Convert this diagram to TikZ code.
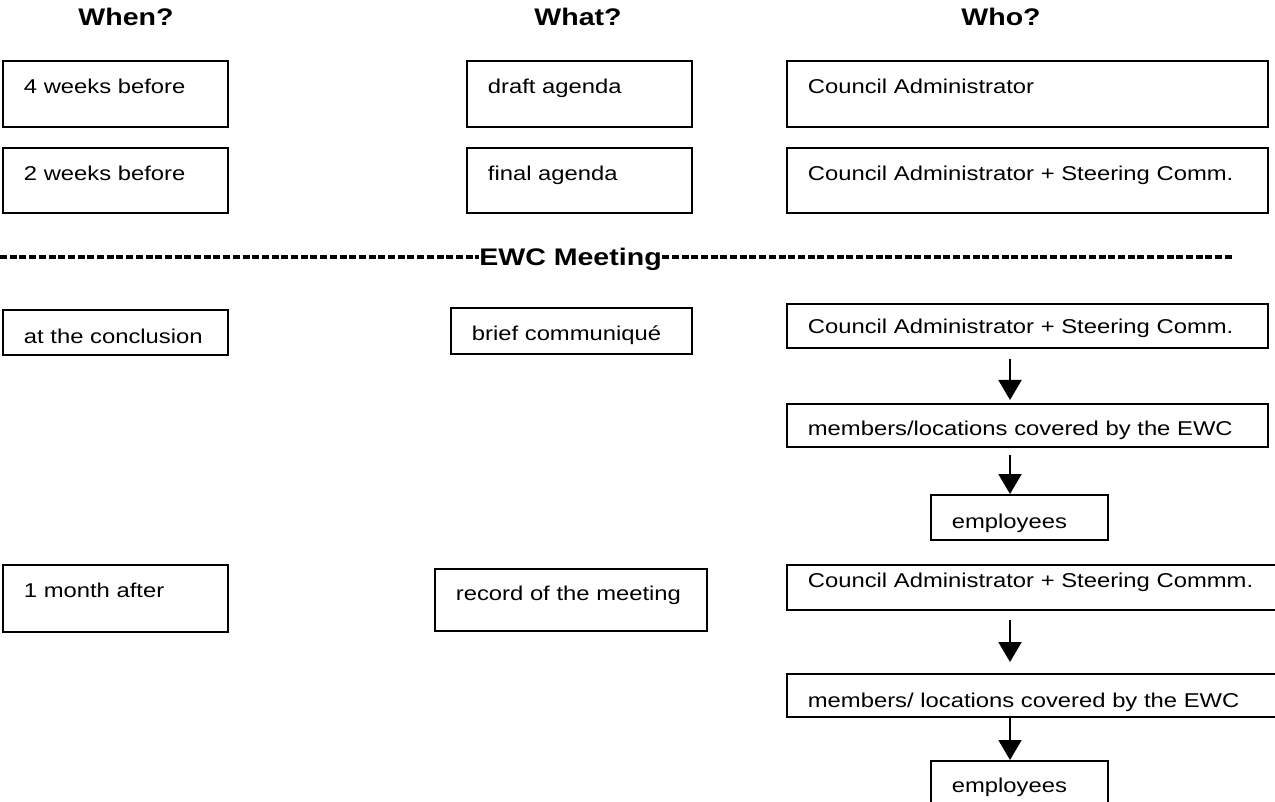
\documentclass[tikz,border=0pt]{standalone}
\usepackage{fontspec}
\setmainfont{Liberation Sans}[FakeStretch=1.19]
\usetikzlibrary{arrows.meta}

\begin{document}
\begin{tikzpicture}[x=0.5pt, y=-0.5pt, >={Triangle[width=11.5pt, length=10pt]},
  box/.style n args={3}{draw, line width=0.9pt, anchor=north west, align=left,
    inner xsep=10.5pt, inner ysep=0pt, text width=#1-21pt,
    text height=#2, text depth=#3, font=\fontsize{10}{12}\selectfont},
  head/.style={anchor=base, inner sep=0pt, font=\bfseries\fontsize{12}{14}\selectfont},
  hyphens/.style={line width=2.2pt, dash pattern=on 3.5pt off 1.35pt},
  flow/.style={->, line width=1pt}]

% Page
\clip (0, 0) rectangle (1275, 802);

% Column headings
\node[head] (when) at (126, 26) {When?};
\node[head] (what) at (578, 26) {What?};
\node[head] (who) at (1001, 26) {Who?};

% Before the meeting
\node[box={112.5pt}{16.5pt}{16.5pt}] (when1) at (2, 60) {4 weeks before};
\node[box={112.5pt}{16.5pt}{16.5pt}] (what1) at (466, 60) {draft agenda};
\node[box={240.5pt}{16.5pt}{16.5pt}] (who1) at (786, 60) {Council Administrator};

\node[box={112.5pt}{16.5pt}{16pt}] (when2) at (2, 147) {2 weeks before};
\node[box={112.5pt}{16.5pt}{16pt}] (what2) at (466, 147) {final agenda};
\node[box={240.5pt}{16.5pt}{16pt}] (who2) at (786, 147) {Council Administrator + Steering Comm.};

% Meeting line
\node[head] (ewc) at (570.5, 266) {EWC Meeting};
\coordinate (ewcL) at (0, 257);
\coordinate (ewcR) at (1233, 257);
\draw[hyphens] (ewcL) -- (ewcL -| ewc.west);
\draw[hyphens] (ewc.east |- ewcR) -- (ewcR);

% At the conclusion
\node[box={112.5pt}{17pt}{5.5pt}] (when3) at (2, 309) {at the conclusion};
\node[box={120.5pt}{16.5pt}{6.5pt}] (what3) at (450, 307) {brief communiqué};
\node[box={240.5pt}{15pt}{7pt}] (who3) at (786, 303) {Council Administrator + Steering Comm.};
\node[box={240.5pt}{16pt}{5.5pt}] (mem3) at (786, 403) {members/locations covered by the EWC};
\node[box={88.5pt}{17pt}{5.5pt}] (emp3) at (930, 494) {employees};

% One month after
\node[box={112.5pt}{16.5pt}{17pt}] (when4) at (2, 564) {1 month after};
\node[box={136pt}{16pt}{15pt}] (what4) at (434, 568) {record of the meeting};
\node[box={250pt}{11.5pt}{11pt}] (who4) at (786, 564) {Council Administrator + Steering Commm.};
\node[box={250pt}{17pt}{4.5pt}] (mem4) at (786, 673) {members/ locations covered by the EWC};
\node[box={88.5pt}{16pt}{7pt}] (emp4) at (930, 760) {employees};

% Arrows
\coordinate (arrx) at (1010, 0);
\draw[flow] ([yshift=-5pt]who3.south -| arrx) -- ([yshift=1.5pt]mem3.north -| arrx);
\draw[flow] ([yshift=-3.5pt]mem3.south -| arrx) -- (emp3.north -| arrx);
\draw[flow] ([yshift=-4.5pt]who4.south -| arrx) -- ([yshift=5.5pt]mem4.north -| arrx);
\draw[flow] (mem4.south -| arrx) -- (emp4.north -| arrx);

\end{tikzpicture}
\end{document}
